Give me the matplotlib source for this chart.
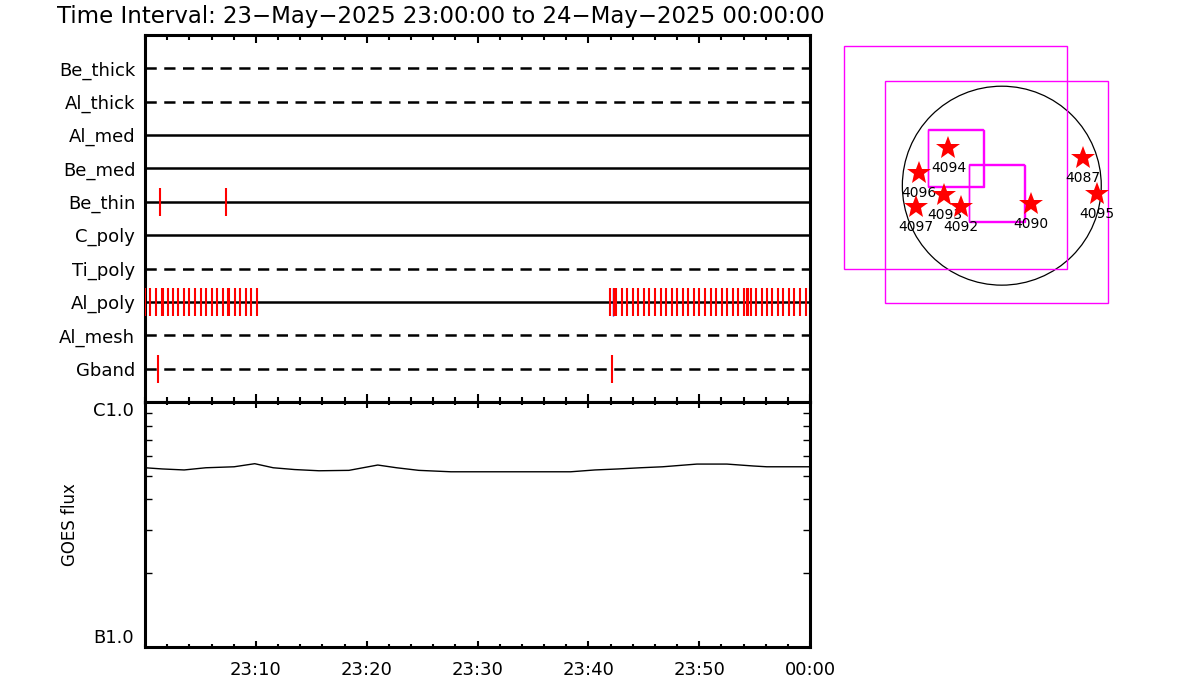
import numpy as np
import matplotlib
matplotlib.use("Agg")
import matplotlib.pyplot as plt
from matplotlib.patches import Circle, Rectangle

plt.rcParams['font.family'] = ['DejaVu Sans']

# detector rows, top to bottom
rows = ['Be_thick', 'Al_thick', 'Al_med', 'Be_med', 'Be_thin',
        'C_poly', 'Ti_poly', 'Al_poly', 'Al_mesh', 'Gband']
dashed = [True, True, False, False, False, False, True, False, True, True]

# exposure marks (minutes after 23:00)
be_thin_t = [1.35, 7.3]
al_poly_t = [0.0, 0.45, 0.97, 1.5, 1.65, 2.05, 2.5, 3.0, 3.52, 4.0, 4.5,
             5.03, 5.5, 6.02, 6.52, 7.01, 7.45, 7.58, 8.1, 8.57, 9.1, 9.56,
             10.08,
             41.96, 42.35, 42.5, 43.07, 43.52, 44.0, 44.51, 45.05, 45.5,
             46.02, 46.53, 47.0, 47.52, 48.03, 48.52, 49.02, 49.53, 50.01,
             50.53, 51.04, 51.52, 52.03, 52.54, 53.03, 53.53, 54.05, 54.28,
             54.45, 54.68, 55.13, 55.64, 56.1, 56.6, 57.09, 57.59, 58.1,
             58.58, 59.1, 59.6]
al_poly_blue_t = [42.25]
gband_t = [1.14, 42.1]

# GOES flux
goes_t = [0, 1.57, 3.53, 5.49, 8.04, 9.9, 11.57, 13.5, 15.7, 18.4, 21.0,
          22.7, 24.7, 27.6, 38.4, 40.6, 42.7, 44.7, 46.7, 49.8, 52.5, 54.9,
          56.1, 60]
goes_flux = [5.39e-7, 5.33e-7, 5.28e-7, 5.39e-7, 5.44e-7, 5.60e-7, 5.39e-7,
             5.30e-7, 5.24e-7, 5.26e-7, 5.53e-7, 5.39e-7, 5.26e-7, 5.19e-7,
             5.19e-7, 5.28e-7, 5.33e-7, 5.39e-7, 5.44e-7, 5.58e-7, 5.58e-7,
             5.48e-7, 5.44e-7, 5.44e-7]

# solar map (arcsec)
disk_r = 950
boxes = [(-1506, -793, 621, 1334), (-1112, -1123, 1012, 997),
         (-706, 0, -181, 539), (-704, -10, -169, 532),
         (-315, -337, 213, 204), (-309, -344, 225, 195)]
ar_num = ['4094', '4096', '4093', '4097', '4092', '4090', '4087', '4095']
ar_x = [-510, -790, -548, -821, -389, 280, 779, 907]
ar_y = [357, 118, -89, -201, -201, -178, 267, -82]

tick_labels = ['23:10', '23:20', '23:30', '23:40', '23:50', '00:00']

W, H = 1200, 700
fig = plt.figure(figsize=(12, 7), dpi=100)

def box(l, t, r, b):
    return [l / W, 1 - b / H, (r - l) / W, (b - t) / H]

fs = 13
lw_frame = 2.2

# ---- top panel
ax1 = fig.add_axes(box(145, 35, 810, 402))
n = len(rows)
for i, name in enumerate(rows):
    yy = n - i
    ax1.axhline(yy, color='black', lw=1.8,
                ls=(0, (4.5, 3)) if dashed[i] else '-')
ax1.vlines(be_thin_t, 6 - 0.42, 6 + 0.42, colors='red', lw=1.5, zorder=3)
ax1.vlines(al_poly_blue_t, 3 - 0.42, 3 + 0.42, colors='blue', lw=1.0, zorder=3)
ax1.vlines(al_poly_t, 3 - 0.42, 3 + 0.42, colors='red', lw=1.5, zorder=3)
ax1.vlines(gband_t, 1 - 0.42, 1 + 0.42, colors='red', lw=1.5, zorder=3)
ax1.set_xlim(0, 60)
ax1.set_ylim(0, 11)
ax1.set_yticks(np.arange(n, 0, -1))
ax1.set_yticklabels(rows, fontsize=fs)
ax1.tick_params(axis='y', length=0, pad=7)
ax1.set_xticks(np.arange(10, 61, 10))
ax1.set_xticks(np.arange(0, 61, 2), minor=True)
ax1.tick_params(axis='x', which='both', direction='in', top=True, bottom=True,
                labelbottom=False, width=1.5)
ax1.tick_params(axis='x', which='major', length=6)
ax1.tick_params(axis='x', which='minor', length=3.5)
for s in ax1.spines.values():
    s.set_linewidth(lw_frame)

# ---- GOES panel
ax2 = fig.add_axes(box(145, 402, 810, 647))
ax2.plot(goes_t, goes_flux, color='black', lw=1)
ax2.set_yscale('log')
ax2.set_ylim(1e-7, 1e-6)
ax2.set_xlim(0, 60)
ax2.set_yticks([1e-7, 1e-6])
ax2.set_yticklabels(['B1.0', 'C1.0'], fontsize=fs)
ax2.set_yticks(np.arange(2, 10) * 1e-7, minor=True)
ax2.yaxis.set_minor_formatter(plt.NullFormatter())
labs = ax2.get_yticklabels()
labs[0].set_va('bottom')
labs[1].set_va('top')
ax2.tick_params(axis='y', which='major', length=0, pad=8)
ax2.tick_params(axis='y', which='minor', direction='in', left=True,
                right=True, length=5, width=1)
ax2.set_xticks(np.arange(10, 61, 10))
ax2.set_xticklabels(tick_labels, fontsize=fs)
ax2.set_xticks(np.arange(0, 61, 2), minor=True)
ax2.tick_params(axis='x', which='both', direction='in', top=True, bottom=True,
                width=1.5, pad=10)
ax2.tick_params(axis='x', which='major', length=4.5)
ax2.tick_params(axis='x', which='minor', length=2.5)
for s in ax2.spines.values():
    s.set_linewidth(lw_frame)
fig.text(70 / W, 1 - 525 / H, 'GOES flux', rotation=90, ha='center',
         va='center', fontsize=fs - 1)

fig.text(57 / W, 1 - 17 / H,
         'Time Interval: 23\u2212May\u22122025 23:00:00 to 24\u2212May\u22122025 00:00:00',
         ha='left', va='center', fontsize=16.5)

# ---- solar map
ax3 = fig.add_axes(box(830, 35, 1120, 315))
ax3.set_xlim(-1641, 1129)
ax3.set_ylim(-1235, 1439)
ax3.axis('off')
ax3.add_patch(Circle((0, 0), disk_r, fill=False, color='black', lw=0.9))
for x0, y0, x1, y1 in boxes:
    ax3.add_patch(Rectangle((x0, y0), x1 - x0, y1 - y0, fill=False,
                            edgecolor='#ff00ff', lw=1))
for i in range(len(ar_num)):
    ax3.annotate(ar_num[i], (ar_x[i], ar_y[i]), xytext=(0, -20),
                 textcoords='offset pixels', ha='center', va='center',
                 fontsize=10, zorder=2)
    ax3.plot(ar_x[i], ar_y[i], marker='*', color='red', ms=18, mew=0,
             ls='none', zorder=3 + i)

fig.savefig('out.png', dpi=100)
